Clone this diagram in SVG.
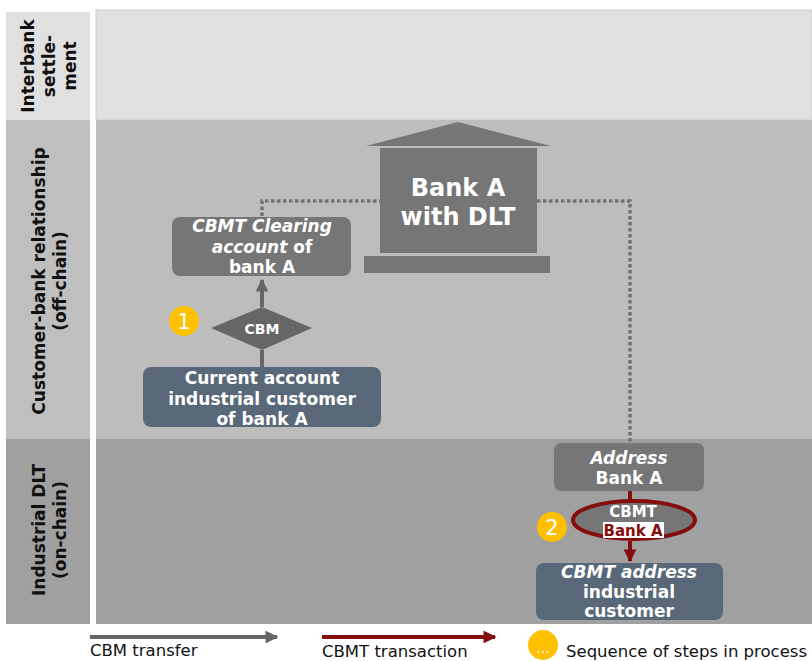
<svg xmlns="http://www.w3.org/2000/svg" width="812" height="661" viewBox="0 0 812 661">
<defs>
<style>
text{font-family:"DejaVu Sans","Verdana",sans-serif;}
.b{font-weight:bold;fill:#fff;text-anchor:middle;}
.i{font-style:italic;}
.lab{font-weight:bold;fill:#111;text-anchor:middle;font-size:17px;}
.leg{fill:#111;font-size:16.5px;}
.dot{fill:none;stroke:#737373;stroke-width:3.5;stroke-dasharray:3.5 2.5;}
.num{fill:#fff;font-size:21px;text-anchor:middle;}
</style>
<marker id="ag" viewBox="0 0 10 10" refX="9" refY="5" markerWidth="3.2" markerHeight="3.2" orient="auto" markerUnits="strokeWidth"><path d="M0,0L10,5L0,10z" fill="#666"/></marker>
<marker id="ar" viewBox="0 0 10 10" refX="9" refY="5" markerWidth="3.2" markerHeight="3.2" orient="auto" markerUnits="strokeWidth"><path d="M0,0L10,5L0,10z" fill="#840d0d"/></marker>
</defs>
<rect x="0" y="0" width="812" height="661" fill="#fff"/>
<g id="lanes">
<rect x="6" y="12" width="84" height="108" fill="#e0e0e0"/>
<rect x="6" y="120" width="84" height="319" fill="#bfbfbf"/>
<rect x="6" y="439" width="84" height="185" fill="#a0a0a0"/>
<rect x="96" y="10" width="716" height="110" fill="#e0e0e0" stroke="#cfcfcf" stroke-width="1"/>
<rect x="96" y="120" width="716" height="319" fill="#bdbdbd"/>
<rect x="96" y="439" width="716" height="185" fill="#a0a0a0"/>
<g transform="translate(48,66) rotate(-90)"><text class="lab" x="0" y="-14">Interbank</text><text class="lab" x="0" y="7">settle-</text><text class="lab" x="0" y="28">ment</text></g>
<g transform="translate(48,281) rotate(-90)"><text class="lab" x="0" y="-3">Customer-bank relationship</text><text class="lab" x="0" y="18">(off-chain)</text></g>
<g transform="translate(48,530) rotate(-90)"><text class="lab" x="0" y="-3">Industrial DLT</text><text class="lab" x="0" y="18">(on-chain)</text></g>
</g>
<g id="connectors">
<polyline class="dot" points="262,216 262,201 380,201"/>
<polyline class="dot" points="537,201 630,201 630,443"/>
<line x1="262" y1="307" x2="262" y2="280" stroke="#666" stroke-width="4" marker-end="url(#ag)"/>
<line x1="262" y1="350" x2="262" y2="367" stroke="#666" stroke-width="4"/>
<line x1="630" y1="491" x2="630" y2="501" stroke="#840d0d" stroke-width="4"/>
<line x1="630" y1="541" x2="630" y2="561" stroke="#840d0d" stroke-width="4" marker-end="url(#ar)"/>
</g>
<g id="bank">
<polygon points="366,146 458,122 551,146" fill="#767676"/>
<rect x="380" y="148" width="157" height="105" fill="#767676"/>
<rect x="364" y="256" width="186" height="17" fill="#767676"/>
<text class="b" x="458" y="196" font-size="24">Bank A</text>
<text class="b" x="458" y="225" font-size="24">with DLT</text>
</g>
<g id="clearing">
<rect x="172" y="217" width="179" height="59" rx="8" fill="#767676"/>
<text class="b" x="262" y="232" font-size="17"><tspan class="i">CBMT Clearing</tspan></text>
<text class="b" x="262" y="253" font-size="17"><tspan class="i">account</tspan> of</text>
<text class="b" x="262" y="273" font-size="17">bank A</text>
</g>
<g id="cbm">
<polygon points="211,328 262,307 312,328 262,350" fill="#666"/>
<text class="b" x="262" y="334" font-size="14">CBM</text>
</g>
<g id="current">
<rect x="143" y="367" width="238" height="60" rx="8" fill="#596878"/>
<text class="b" x="262" y="384" font-size="17">Current account</text>
<text class="b" x="262" y="405" font-size="17">industrial customer</text>
<text class="b" x="262" y="425" font-size="17">of bank A</text>
</g>
<g id="step1">
<circle cx="184" cy="321" r="15" fill="#ffc000"/>
<text class="num" x="184" y="329">1</text>
</g>
<g id="address">
<rect x="554" y="443" width="150" height="48" rx="7" fill="#767676"/>
<text class="b i" x="629" y="464" font-size="17">Address</text>
<text class="b" x="629" y="484" font-size="17">Bank A</text>
</g>
<g id="cbmt">
<ellipse cx="634" cy="520" rx="61" ry="19" fill="#767676" stroke="#840d0d" stroke-width="4"/>
<text class="b" x="633" y="517" font-size="15">CBMT</text>
<rect x="603" y="522" width="61" height="16" fill="#fff"/>
<text class="b" x="633" y="536" font-size="15" style="fill:#840d0d">Bank A</text>
</g>
<g id="step2">
<circle cx="552" cy="527" r="15" fill="#ffc000"/>
<text class="num" x="552" y="535">2</text>
</g>
<g id="cbmtaddr">
<rect x="536" y="563" width="187" height="57" rx="8" fill="#596878"/>
<text class="b i" x="629" y="578" font-size="17">CBMT address</text>
<text class="b" x="629" y="598" font-size="17">industrial</text>
<text class="b" x="629" y="617" font-size="17">customer</text>
</g>
<g id="legend">
<line x1="90" y1="637" x2="277" y2="637" stroke="#666" stroke-width="4" marker-end="url(#ag)"/>
<text class="leg" x="90" y="656">CBM transfer</text>
<line x1="322" y1="637" x2="495" y2="637" stroke="#840d0d" stroke-width="4" marker-end="url(#ar)"/>
<text class="leg" x="322" y="657">CBMT transaction</text>
<circle cx="543" cy="645" r="15" fill="#ffc000"/>
<text x="543" y="653" fill="#fff" font-size="14" text-anchor="middle">...</text>
<text class="leg" x="566" y="657">Sequence of steps in process</text>
</g>
</svg>
